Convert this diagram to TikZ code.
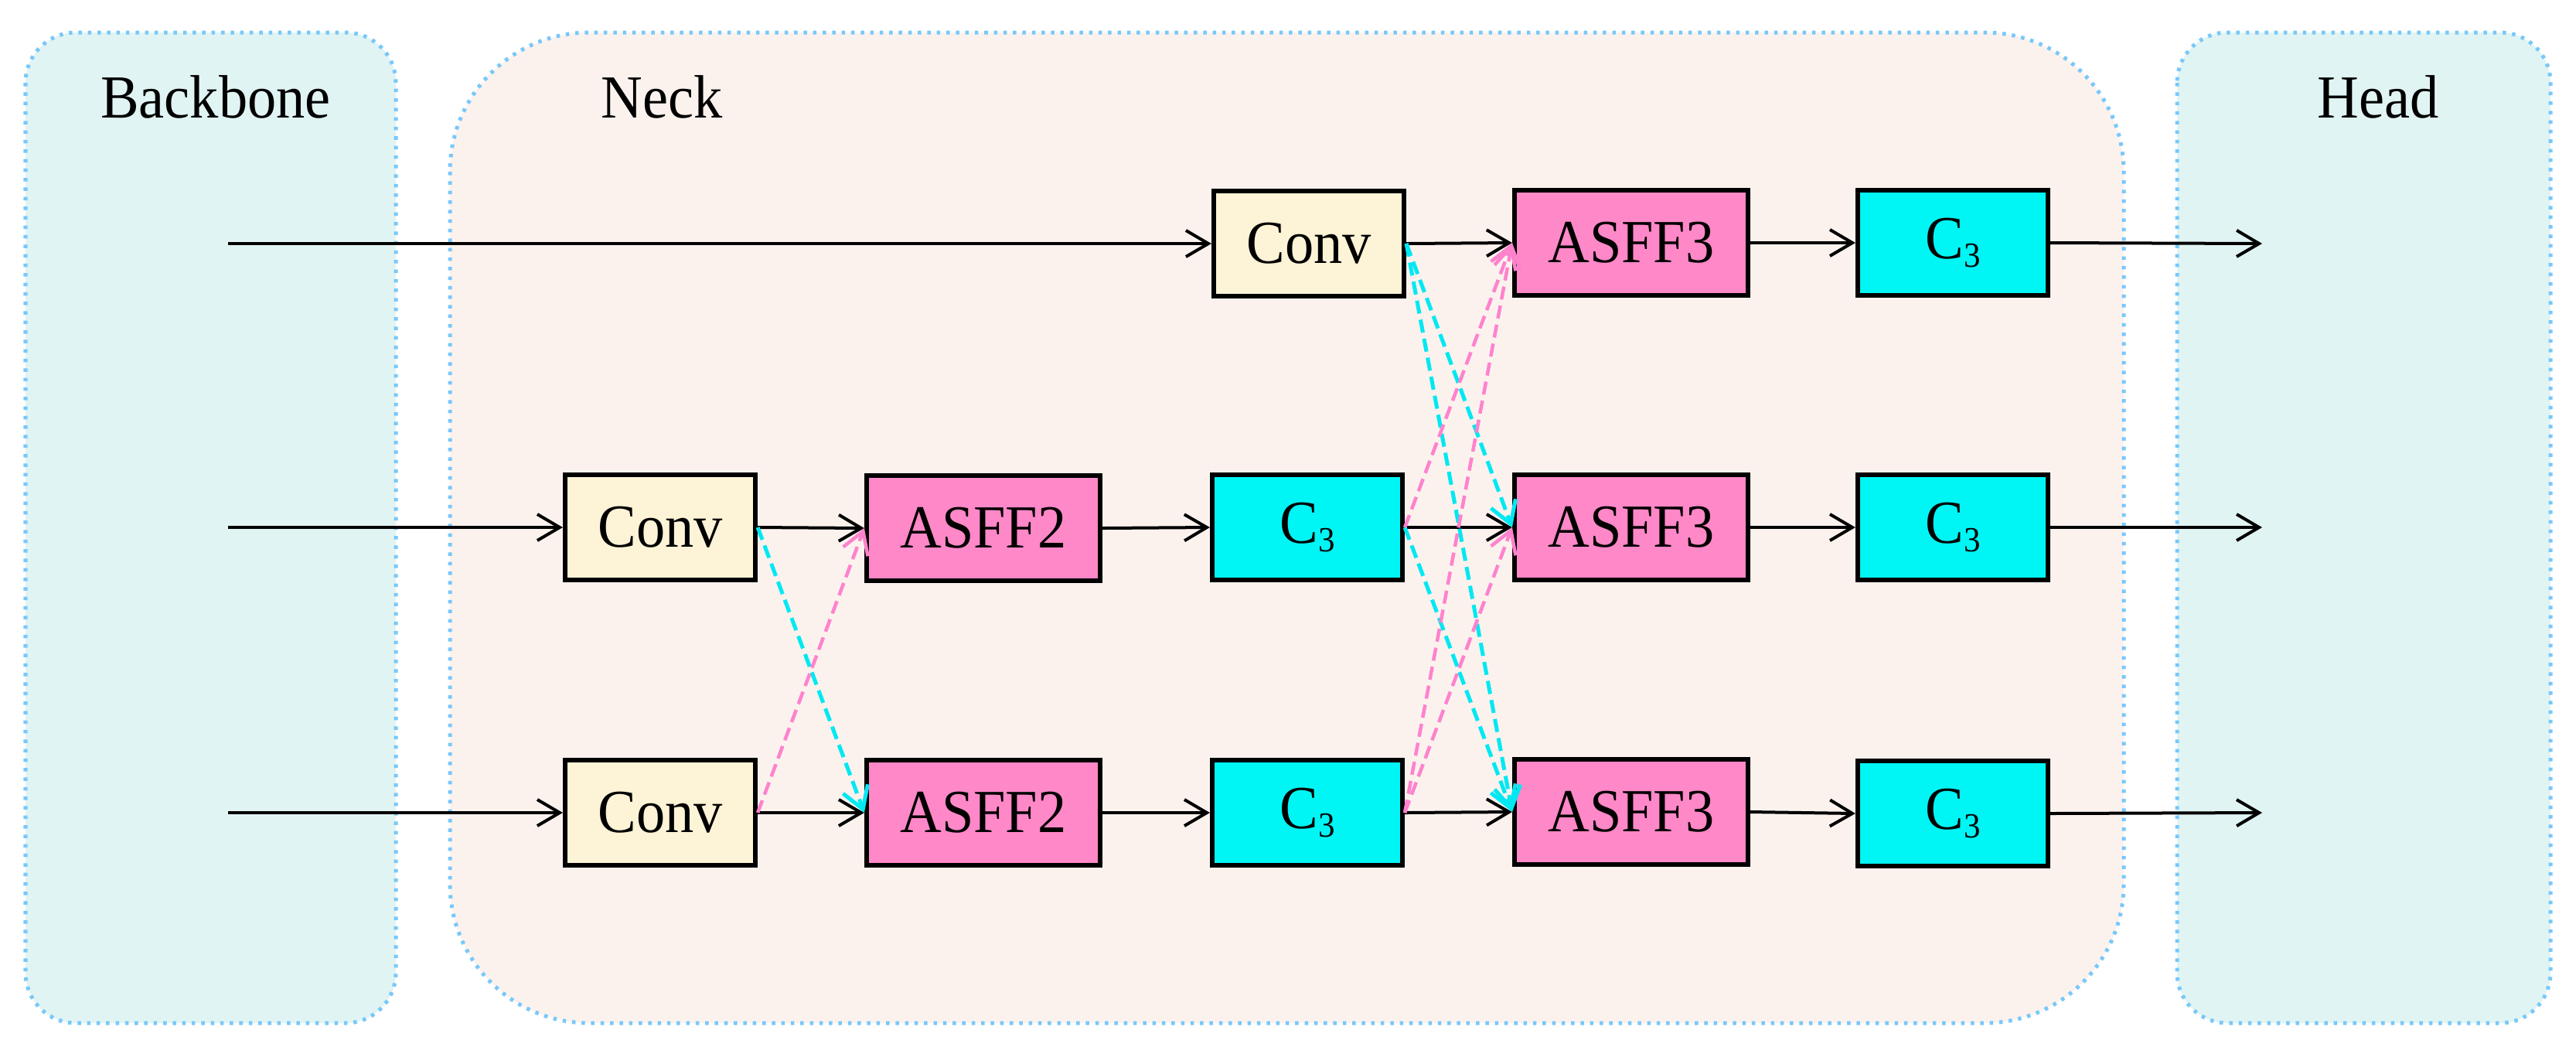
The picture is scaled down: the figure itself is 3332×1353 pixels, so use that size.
\documentclass[tikz,border=0pt]{standalone}
\usepackage{fontspec}
\setmainfont{Liberation Serif}[FakeStretch=0.94]
\usetikzlibrary{arrows.meta}
\definecolor{panelA}{RGB}{224,244,243}
\definecolor{panelB}{RGB}{251,242,238}
\definecolor{panelEdge}{RGB}{120,200,250}
\definecolor{convFill}{RGB}{253,243,214}
\definecolor{asffFill}{RGB}{255,136,200}
\definecolor{cthreeFill}{RGB}{0,245,245}
\definecolor{cyanLine}{RGB}{0,232,242}
\definecolor{pinkLine}{RGB}{255,130,205}
\newcommand{\cthree}{C\raisebox{-3pt}{\fontsize{13}{13}\selectfont 3}}
\begin{document}
\begin{tikzpicture}[x=0.01cm,y=-0.01cm,
  panelbox/.style={draw=panelEdge, line width=0.05cm, dash pattern=on 0.045cm off 0.078cm},
  sidepanel/.style={panelbox, fill=panelA, rounded corners=0.65cm},
  neckpanel/.style={panelbox, fill=panelB, rounded corners=1.8cm},
  title/.style={anchor=base, inner sep=0, font=\fontsize{22.5}{26}\selectfont},
  block/.style={draw=black, line width=0.06cm, minimum width=2.46cm, minimum height=1.36cm, inner sep=0, font=\fontsize{22.5}{26}\selectfont},
  convbox/.style={block, fill=convFill},
  asffbox/.style={block, fill=asffFill, minimum width=3.02cm},
  cbox/.style={block, fill=cthreeFill},
  flow/.style={-{Straight Barb[length=0.29cm,width=0.34cm,line width=0.04cm]}, line width=0.04cm, black},
  cyanflow/.style={-{Straight Barb[length=0.28cm,width=0.34cm,line width=0.05cm]}, cyanLine, line width=0.05cm, dash pattern=on 0.17cm off 0.08cm},
  pinkflow/.style={-{Straight Barb[length=0.28cm,width=0.34cm,line width=0.045cm]}, pinkLine, line width=0.045cm, dash pattern=on 0.17cm off 0.08cm}
]
\useasboundingbox (0,0) rectangle (3332,1353);
% panels
\draw[sidepanel] (33,42) rectangle (512,1323);
\draw[neckpanel] (582,42) rectangle (2747,1323);
\draw[sidepanel] (2816,42) rectangle (3299,1323);
\node[title] (tbb) at (279,152) {Backbone};
\node[title] (tnk) at (856,152) {Neck};
\node[title] (thd) at (3076,152) {Head};
% blocks
\node[convbox] (cv0) at (1693,315) {Conv};
\node[asffbox] (a30) at (2110,314) {ASFF3};
\node[cbox] (c50) at (2526,314) {\cthree};
\node[convbox] (cv1) at (854,682) {Conv};
\node[asffbox] (a21) at (1272,683) {ASFF2};
\node[cbox] (c31) at (1691,682) {\cthree};
\node[asffbox] (a31) at (2110,682) {ASFF3};
\node[cbox] (c51) at (2526,682) {\cthree};
\node[convbox] (cv2) at (854,1051) {Conv};
\node[asffbox] (a22) at (1272,1051) {ASFF2};
\node[cbox] (c32) at (1691,1051) {\cthree};
\node[asffbox] (a32) at (2110,1050) {ASFF3};
\node[cbox] (c52) at (2526,1052) {\cthree};
% free ends
\coordinate (in0) at (295,315);
\coordinate (in1) at (295,682);
\coordinate (in2) at (295,1051);
\coordinate (out0) at (2926,315);
\coordinate (out1) at (2926,682);
\coordinate (out2) at (2926,1051);
% solid flows
\draw[flow] (in0) -- (cv0.west);
\draw[flow] (cv0.east) -- (a30.west);
\draw[flow] (a30.east) -- (c50.west);
\draw[flow] (c50.east) -- (out0);
\draw[flow] (in1) -- (cv1.west);
\draw[flow] (cv1.east) -- (a21.west);
\draw[flow] (a21.east) -- (c31.west);
\draw[flow] (c31.east) -- (a31.west);
\draw[flow] (a31.east) -- (c51.west);
\draw[flow] (c51.east) -- (out1);
\draw[flow] (in2) -- (cv2.west);
\draw[flow] (cv2.east) -- (a22.west);
\draw[flow] (a22.east) -- (c32.west);
\draw[flow] (c32.east) -- (a32.west);
\draw[flow] (a32.east) -- (c52.west);
\draw[flow] (c52.east) -- (out2);
% dashed cross flows
\draw[cyanflow] (cv1.east) -- (a22.west);
\draw[pinkflow] (cv2.east) -- (a21.west);
\draw[cyanflow] (cv0.east) -- (a31.west);
\draw[cyanflow] (cv0.east) -- (a32.west);
\draw[cyanflow] (c31.east) -- (a32.west);
\draw[pinkflow] (c31.east) -- (a30.west);
\draw[pinkflow] (c32.east) -- (a30.west);
\draw[pinkflow] (c32.east) -- (a31.west);
\end{tikzpicture}
\end{document}
